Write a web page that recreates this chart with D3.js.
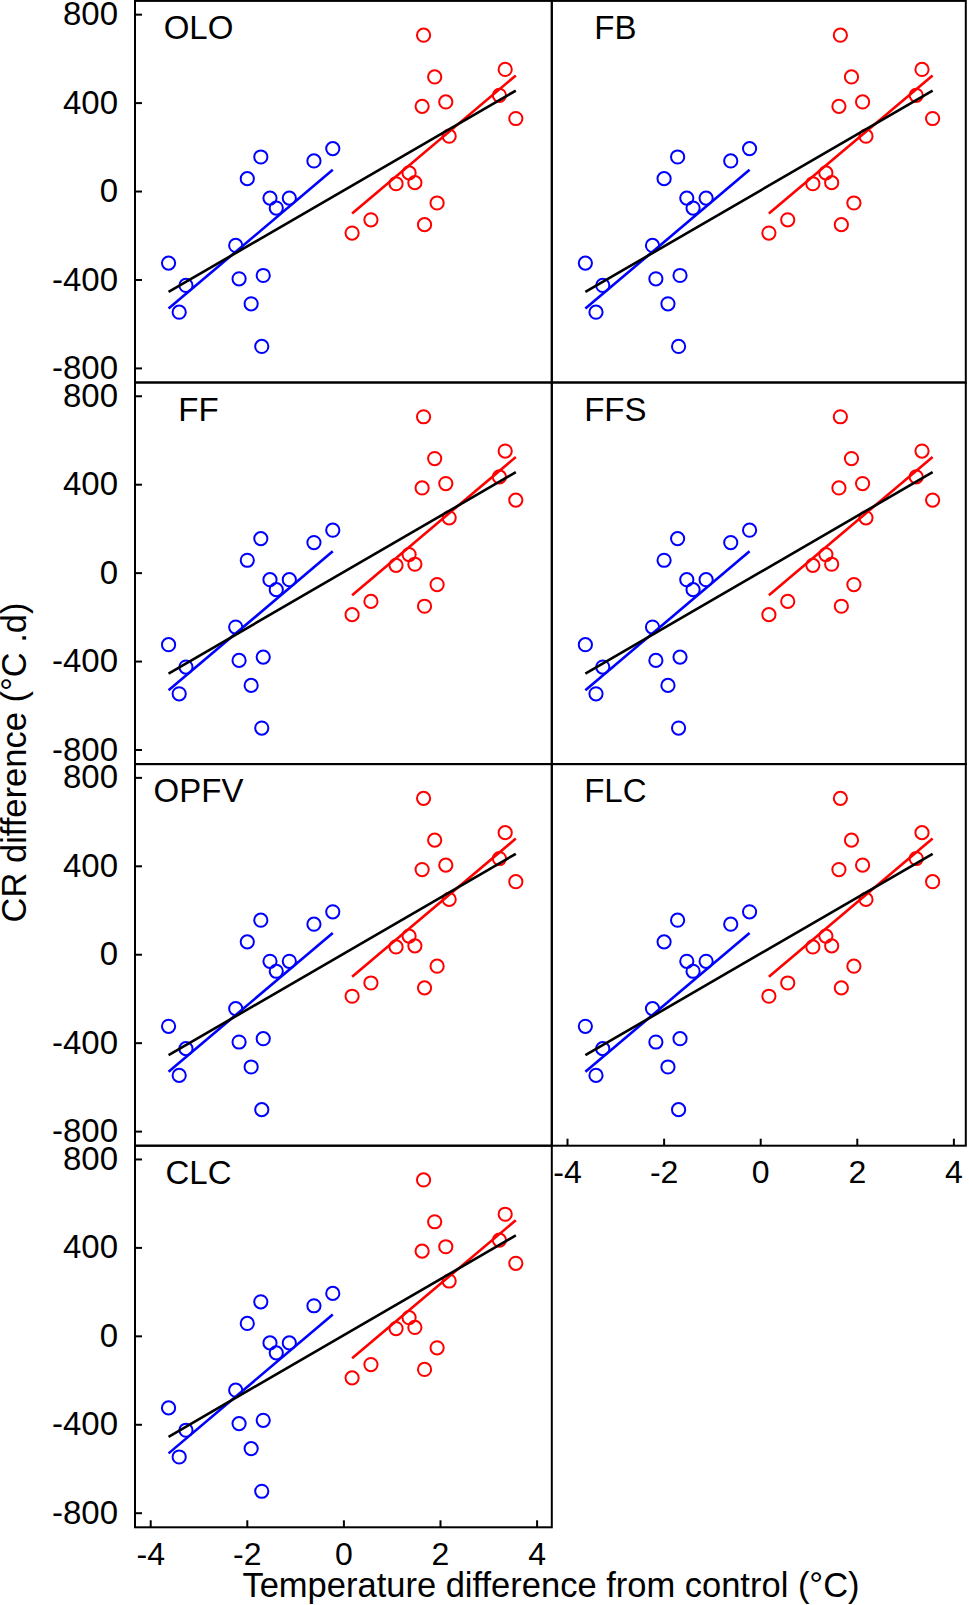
<!DOCTYPE html>
<html>
<head>
<meta charset="utf-8">
<script src="https://cdn.jsdelivr.net/npm/d3@7"></script>
<style>
  body { margin: 0; background: #fff; }
  svg { display: block; font-family: "Liberation Sans", Arial, sans-serif; }
</style>
</head>
<body>
<svg id="chart" width="969" height="1605"></svg>
<script>
// panel names, in reading order (2 columns)
const panels = ["OLO", "FB", "FF", "FFS", "OPFV", "FLC", "CLC"];

// cooled plots (blue)
const coolX = [-3.62, -3.26, -3.40, -2.23, -2.16, -1.91, -1.69, -1.66, -1.99, -1.71, -1.52, -1.39, -1.12, -0.61, -0.22];
const coolY = [-326, -427, -548, -246, -397, -510, -703, -382, 56, 154, -32, -77, -32, 136, 192];

// warmed plots (red)
const warmX = [0.18, 0.57, 1.09, 1.36, 1.48, 1.68, 1.94, 1.66, 1.63, 1.89, 2.12, 2.19, 3.23, 3.35, 3.57];
const warmY = [-190, -130, 33, 82, 38, -152, -54, 705, 383, 516, 403, 248, 433, 550, 328];

// regression lines: cool, warm, all
const fitColors = ["#0000ff", "#ff0000", "#000000"];
const fitSlope = [184.7, 184.3, 126.7];
const fitIntercept = [137, -135, 2];

const yTicks = [-800, -400, 0, 400, 800];
const xTicks = [-4, -2, 0, 2, 4];

const svg = d3.select("#chart");

const panelW = 416.8, panelH = 381.6;
const marginLeft = 135, marginTop = 0.9;

const x = d3.scaleLinear().domain([-4.315, 4.315]).range([0, panelW]);
const y = d3.scaleLinear().domain([-866, 860]).range([panelH, 0]);

const groups = [
  { xs: coolX, ys: coolY, color: "#0000ff" },
  { xs: warmX, ys: warmY, color: "#ff0000" }
];
const allX = coolX.concat(warmX);
const fitRanges = [d3.extent(coolX), d3.extent(warmX), d3.extent(allX)];

panels.forEach((name, i) => {
  const col = i % 2, row = Math.floor(i / 2);
  const g = svg.append("g")
    .attr("transform", `translate(${marginLeft + col * panelW}, ${marginTop + row * panelH})`);

  // points
  groups.forEach(grp => {
    g.selectAll(null)
      .data(grp.xs.map((v, k) => [v, grp.ys[k]]))
      .enter()
      .append("circle")
      .attr("cx", d => x(d[0]))
      .attr("cy", d => y(d[1]))
      .attr("r", 6.6)
      .attr("fill", "none")
      .attr("stroke", grp.color)
      .attr("stroke-width", 2);
  });

  // fitted lines
  fitSlope.forEach((b, k) => {
    const [x0, x1] = fitRanges[k];
    g.append("line")
      .attr("x1", x(x0)).attr("y1", y(fitIntercept[k] + b * x0))
      .attr("x2", x(x1)).attr("y2", y(fitIntercept[k] + b * x1))
      .attr("stroke", fitColors[k])
      .attr("stroke-width", 2.6);
  });

  // panel label
  g.append("text")
    .attr("x", x(-3))
    .attr("y", y(740) + 11.5)
    .attr("text-anchor", "middle")
    .style("font-size", "33px")
    .text(name);

  // y axis on left column
  if (col === 0) {
    const ya = g.append("g")
      .call(d3.axisLeft(y).tickValues(yTicks).tickSizeInner(-7).tickSizeOuter(0)
        .tickPadding(17).tickFormat(d => String(d)));
    ya.select(".domain").remove();
    ya.selectAll("line").attr("stroke-width", 2);
    ya.selectAll("text").style("font-size", "33px").attr("fill", "#000");
  }

  // x axis on bottom panels
  if (i === 5 || i === 6) {
    const xa = g.append("g")
      .attr("transform", `translate(0, ${panelH})`)
      .call(d3.axisBottom(x).tickValues(xTicks).tickSizeInner(-7).tickSizeOuter(0)
        .tickPadding(15).tickFormat(d => String(d)));
    xa.select(".domain").remove();
    xa.selectAll("line").attr("stroke-width", 2);
    xa.selectAll("text").style("font-size", "32px").attr("fill", "#000");
  }

  // frame
  g.append("rect")
    .attr("x", 0).attr("y", 0)
    .attr("width", col === 0 ? panelW : 414)
    .attr("height", panelH)
    .attr("fill", "none")
    .attr("stroke", "#000")
    .attr("stroke-width", 2);
});

// axis titles
svg.append("text")
  .attr("x", 551)
  .attr("y", 1597)
  .attr("text-anchor", "middle")
  .style("font-size", "34.5px")
  .text("Temperature difference from control (°C)");

svg.append("text")
  .attr("transform", `translate(26, 762.5) rotate(-90)`)
  .attr("text-anchor", "middle")
  .style("font-size", "34.5px")
  .text("CR difference (°C .d)");
</script>
</body>
</html>
